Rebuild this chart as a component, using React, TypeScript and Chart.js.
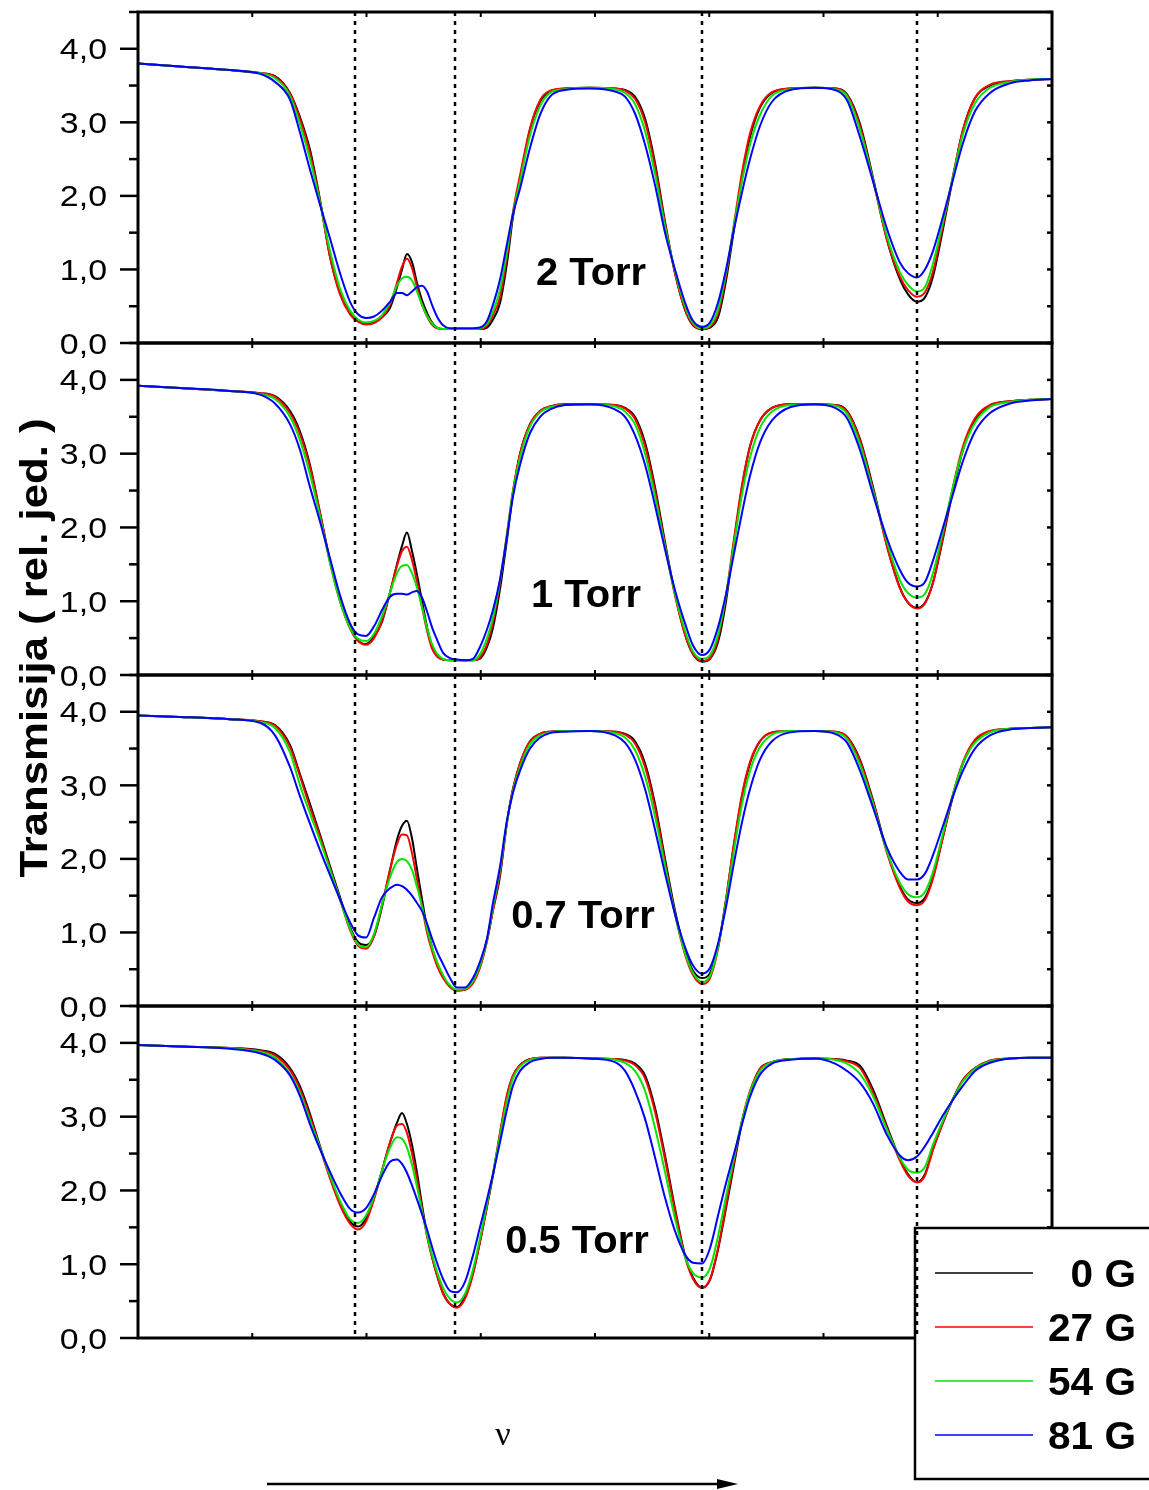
import React, { useEffect, useRef } from 'react';
import { Chart, registerables } from 'chart.js';

Chart.register(...registerables);

// ---------- data (relative frequency axis, arbitrary units 0..8) ----------
const NU = [
  0, 0.368, 0.805, 1.068, 1.199, 1.330, 1.418, 1.505, 1.593, 1.681,
  1.768, 1.856, 1.926, 1.996, 2.066, 2.136, 2.206, 2.267, 2.311, 2.354,
  2.398, 2.442, 2.486, 2.530, 2.573, 2.617, 2.670, 2.731, 2.792, 2.862,
  2.932, 2.993, 3.055, 3.107, 3.168, 3.230, 3.282, 3.344, 3.431, 3.519,
  3.606, 3.737, 3.956, 4.175, 4.263, 4.350, 4.438, 4.525, 4.613, 4.700,
  4.788, 4.858, 4.937, 5.007, 5.077, 5.147, 5.217, 5.287, 5.357, 5.444,
  5.549, 5.707, 5.926, 6.101, 6.206, 6.319, 6.433, 6.556, 6.670, 6.740,
  6.818, 6.888, 6.958, 7.046, 7.133, 7.221, 7.326, 7.457, 7.632, 7.807,
  8.0,
];

// 2 Torr
const T2_0G = [
  3.80, 3.76, 3.71, 3.67, 3.63, 3.40, 3.07, 2.63, 1.95, 1.17,
  0.68, 0.41, 0.30, 0.26, 0.28, 0.35, 0.48, 0.76, 1.00, 1.21,
  1.10, 0.82, 0.58, 0.41, 0.28, 0.21, 0.19, 0.19, 0.19, 0.19,
  0.19, 0.19, 0.21, 0.32, 0.54, 1.09, 1.71, 2.22, 2.90, 3.28,
  3.42, 3.46, 3.47, 3.46, 3.44, 3.35, 3.05, 2.45, 1.65, 0.95,
  0.45, 0.24, 0.19, 0.21, 0.35, 0.85, 1.55, 2.25, 2.80, 3.20,
  3.40, 3.46, 3.47, 3.46, 3.38, 2.98, 2.25, 1.40, 0.86, 0.66,
  0.56, 0.62, 0.90, 1.55, 2.25, 2.90, 3.33, 3.50, 3.56, 3.58,
  3.59,
];
const T2_27G = [
  3.80, 3.76, 3.71, 3.67, 3.62, 3.39, 3.04, 2.58, 1.93, 1.17,
  0.66, 0.39, 0.29, 0.25, 0.27, 0.35, 0.52, 0.82, 1.04, 1.15,
  1.02, 0.76, 0.52, 0.36, 0.25, 0.20, 0.19, 0.19, 0.19, 0.19,
  0.19, 0.19, 0.24, 0.38, 0.62, 1.18, 1.78, 2.28, 2.92, 3.30,
  3.43, 3.46, 3.47, 3.46, 3.43, 3.32, 3.00, 2.40, 1.62, 0.95,
  0.46, 0.25, 0.19, 0.22, 0.40, 0.92, 1.62, 2.32, 2.85, 3.22,
  3.41, 3.46, 3.47, 3.46, 3.37, 2.95, 2.22, 1.40, 0.90, 0.72,
  0.63, 0.69, 0.97, 1.60, 2.27, 2.90, 3.33, 3.51, 3.56, 3.58,
  3.59,
];
const T2_54G = [
  3.80, 3.76, 3.71, 3.67, 3.60, 3.36, 2.97, 2.50, 1.91, 1.25,
  0.74, 0.44, 0.32, 0.28, 0.30, 0.38, 0.55, 0.78, 0.88, 0.90,
  0.85, 0.70, 0.52, 0.37, 0.27, 0.21, 0.19, 0.19, 0.19, 0.19,
  0.19, 0.20, 0.26, 0.43, 0.72, 1.25, 1.76, 2.20, 2.82, 3.22,
  3.40, 3.45, 3.47, 3.45, 3.40, 3.25, 2.88, 2.30, 1.58, 0.98,
  0.50, 0.27, 0.20, 0.24, 0.46, 0.96, 1.60, 2.20, 2.70, 3.10,
  3.36, 3.45, 3.47, 3.45, 3.35, 2.90, 2.22, 1.45, 0.96, 0.79,
  0.70, 0.76, 1.08, 1.65, 2.26, 2.84, 3.26, 3.47, 3.55, 3.58,
  3.59,
];
const T2_81G = [
  3.80, 3.76, 3.71, 3.66, 3.55, 3.31, 2.86, 2.36, 1.88, 1.42,
  0.95, 0.56, 0.39, 0.34, 0.36, 0.44, 0.56, 0.68, 0.68, 0.65,
  0.70, 0.76, 0.78, 0.70, 0.52, 0.36, 0.24, 0.20, 0.20, 0.20,
  0.20, 0.21, 0.30, 0.52, 0.86, 1.35, 1.75, 2.10, 2.65, 3.10,
  3.35, 3.44, 3.46, 3.42, 3.35, 3.12, 2.70, 2.15, 1.50, 1.00,
  0.55, 0.30, 0.22, 0.28, 0.55, 1.00, 1.55, 2.05, 2.50, 2.95,
  3.28, 3.44, 3.47, 3.44, 3.30, 2.80, 2.20, 1.55, 1.09, 0.95,
  0.89, 1.00, 1.25, 1.72, 2.22, 2.72, 3.15, 3.40, 3.53, 3.57,
  3.59,
];

// 1 Torr
const T1_0G = [
  3.92, 3.89, 3.85, 3.82, 3.78, 3.58, 3.30, 2.85, 2.20, 1.55,
  1.02, 0.66, 0.47, 0.42, 0.52, 0.72, 1.12, 1.50, 1.75, 1.93,
  1.68, 1.36, 1.00, 0.65, 0.38, 0.26, 0.21, 0.20, 0.20, 0.20,
  0.20, 0.22, 0.38, 0.64, 1.16, 1.84, 2.47, 3.00, 3.40, 3.58,
  3.64, 3.67, 3.67, 3.66, 3.62, 3.50, 3.15, 2.55, 1.80, 1.10,
  0.55, 0.28, 0.18, 0.22, 0.45, 1.00, 1.80, 2.55, 3.10, 3.45,
  3.62, 3.67, 3.67, 3.66, 3.58, 3.20, 2.55, 1.75, 1.18, 0.98,
  0.91, 0.98, 1.25, 1.85, 2.50, 3.05, 3.45, 3.65, 3.71, 3.73,
  3.74,
];
const T1_27G = [
  3.92, 3.89, 3.85, 3.82, 3.77, 3.55, 3.26, 2.82, 2.20, 1.52,
  1.00, 0.63, 0.46, 0.41, 0.50, 0.74, 1.12, 1.48, 1.68, 1.74,
  1.56, 1.26, 0.92, 0.60, 0.36, 0.25, 0.21, 0.20, 0.20, 0.20,
  0.20, 0.24, 0.42, 0.72, 1.25, 1.92, 2.50, 3.00, 3.40, 3.58,
  3.64, 3.67, 3.67, 3.66, 3.61, 3.47, 3.10, 2.50, 1.76, 1.08,
  0.55, 0.29, 0.19, 0.23, 0.50, 1.08, 1.85, 2.58, 3.10, 3.45,
  3.62, 3.67, 3.67, 3.66, 3.57, 3.18, 2.52, 1.74, 1.17, 0.98,
  0.90, 0.97, 1.25, 1.88, 2.55, 3.10, 3.48, 3.66, 3.71, 3.73,
  3.74,
];
const T1_54G = [
  3.92, 3.89, 3.85, 3.81, 3.74, 3.50, 3.18, 2.72, 2.15, 1.52,
  1.00, 0.64, 0.49, 0.46, 0.56, 0.80, 1.12, 1.38, 1.48, 1.49,
  1.38, 1.18, 0.92, 0.64, 0.42, 0.29, 0.22, 0.20, 0.20, 0.20,
  0.20, 0.28, 0.50, 0.78, 1.28, 1.90, 2.48, 2.95, 3.37, 3.56,
  3.63, 3.66, 3.67, 3.64, 3.57, 3.40, 3.00, 2.42, 1.74, 1.10,
  0.60, 0.32, 0.22, 0.27, 0.55, 1.08, 1.78, 2.45, 2.95, 3.35,
  3.57, 3.66, 3.67, 3.65, 3.54, 3.13, 2.50, 1.80, 1.28, 1.11,
  1.05, 1.10, 1.38, 1.95, 2.55, 3.05, 3.42, 3.63, 3.70, 3.73,
  3.74,
];
const T1_81G = [
  3.92, 3.89, 3.85, 3.80, 3.68, 3.40, 3.05, 2.55, 2.08, 1.58,
  1.08, 0.70, 0.55, 0.53, 0.66, 0.88, 1.06, 1.10, 1.10, 1.09,
  1.12, 1.14, 1.05, 0.86, 0.65, 0.48, 0.30, 0.23, 0.21, 0.20,
  0.22, 0.38, 0.62, 0.88, 1.29, 1.88, 2.42, 2.85, 3.28, 3.50,
  3.60, 3.66, 3.67, 3.60, 3.50, 3.25, 2.85, 2.30, 1.70, 1.15,
  0.70, 0.40, 0.27, 0.35, 0.65, 1.10, 1.65, 2.20, 2.70, 3.15,
  3.45, 3.63, 3.67, 3.62, 3.48, 3.05, 2.45, 1.85, 1.42, 1.25,
  1.20, 1.26, 1.55, 2.00, 2.45, 2.90, 3.30, 3.55, 3.68, 3.72,
  3.74,
];

// 0.7 Torr
const T07_0G = [
  3.95, 3.93, 3.90, 3.87, 3.82, 3.55, 3.15, 2.75, 2.33, 1.90,
  1.48, 1.07, 0.87, 0.83, 0.95, 1.35, 1.85, 2.26, 2.45, 2.52,
  2.28, 1.86, 1.45, 1.07, 0.80, 0.58, 0.40, 0.26, 0.21, 0.22,
  0.33, 0.53, 0.90, 1.30, 1.76, 2.50, 2.95, 3.30, 3.60, 3.70,
  3.73, 3.74, 3.74, 3.73, 3.70, 3.60, 3.30, 2.75, 2.00, 1.30,
  0.75, 0.48, 0.38, 0.45, 0.80, 1.45, 2.20, 2.85, 3.30, 3.60,
  3.72, 3.74, 3.74, 3.73, 3.66, 3.35, 2.80, 2.10, 1.62, 1.45,
  1.40, 1.47, 1.75, 2.30, 2.85, 3.30, 3.60, 3.73, 3.77, 3.78,
  3.79,
];
const T07_27G = [
  3.95, 3.93, 3.90, 3.87, 3.81, 3.52, 3.12, 2.70, 2.30, 1.87,
  1.45, 1.03, 0.82, 0.78, 0.95, 1.38, 1.85, 2.20, 2.33, 2.32,
  2.08, 1.72, 1.35, 1.00, 0.75, 0.55, 0.38, 0.26, 0.21, 0.22,
  0.31, 0.52, 0.88, 1.30, 1.80, 2.50, 2.95, 3.30, 3.60, 3.70,
  3.73, 3.74, 3.74, 3.73, 3.69, 3.57, 3.25, 2.70, 1.95, 1.25,
  0.70, 0.42, 0.30, 0.38, 0.78, 1.45, 2.22, 2.88, 3.32, 3.60,
  3.72, 3.74, 3.74, 3.73, 3.66, 3.33, 2.78, 2.08, 1.60, 1.42,
  1.37, 1.44, 1.73, 2.30, 2.88, 3.32, 3.62, 3.74, 3.77, 3.78,
  3.79,
];
const T07_54G = [
  3.95, 3.93, 3.90, 3.86, 3.78, 3.45, 3.00, 2.62, 2.25, 1.85,
  1.45, 1.05, 0.84, 0.80, 0.98, 1.38, 1.75, 1.96, 2.00, 1.97,
  1.85, 1.62, 1.35, 1.05, 0.80, 0.60, 0.42, 0.28, 0.22, 0.23,
  0.34, 0.55, 0.90, 1.35, 1.85, 2.50, 2.92, 3.25, 3.56, 3.68,
  3.72, 3.74, 3.74, 3.71, 3.65, 3.48, 3.12, 2.58, 1.90, 1.25,
  0.72, 0.45, 0.33, 0.41, 0.80, 1.42, 2.12, 2.75, 3.20, 3.52,
  3.69, 3.74, 3.74, 3.72, 3.63, 3.28, 2.75, 2.10, 1.67, 1.52,
  1.48, 1.55, 1.82, 2.35, 2.88, 3.30, 3.58, 3.72, 3.77, 3.78,
  3.79,
];
const T07_81G = [
  3.95, 3.93, 3.90, 3.85, 3.68, 3.25, 2.85, 2.48, 2.12, 1.78,
  1.45, 1.14, 0.96, 0.93, 1.20, 1.48, 1.60, 1.65, 1.63, 1.58,
  1.50, 1.40, 1.29, 1.12, 0.92, 0.74, 0.57, 0.38, 0.25, 0.25,
  0.38, 0.60, 0.92, 1.40, 1.89, 2.53, 2.90, 3.20, 3.50, 3.65,
  3.71, 3.73, 3.74, 3.68, 3.58, 3.35, 2.95, 2.40, 1.80, 1.25,
  0.80, 0.55, 0.44, 0.52, 0.85, 1.35, 1.95, 2.50, 2.95, 3.35,
  3.60, 3.72, 3.74, 3.70, 3.58, 3.20, 2.70, 2.15, 1.82, 1.72,
  1.72, 1.80, 2.05, 2.45, 2.85, 3.20, 3.50, 3.68, 3.76, 3.78,
  3.79,
];

// 0.5 Torr
const T05_0G = [
  3.97, 3.95, 3.93, 3.90, 3.85, 3.66, 3.41, 3.04, 2.60, 2.19,
  1.84, 1.58, 1.51, 1.62, 1.90, 2.27, 2.65, 2.92, 3.05, 2.90,
  2.62, 2.24, 1.80, 1.40, 1.10, 0.85, 0.61, 0.46, 0.42, 0.56,
  0.88, 1.30, 1.78, 2.20, 2.75, 3.28, 3.55, 3.70, 3.78, 3.80,
  3.80, 3.80, 3.79, 3.78, 3.77, 3.72, 3.56, 3.12, 2.47, 1.76,
  1.12, 0.82, 0.68, 0.79, 1.20, 1.76, 2.35, 2.92, 3.33, 3.65,
  3.74, 3.78, 3.79, 3.78, 3.76, 3.69, 3.37, 2.87, 2.42, 2.22,
  2.11, 2.22, 2.56, 2.92, 3.24, 3.50, 3.66, 3.76, 3.79, 3.80,
  3.80,
];
const T05_27G = [
  3.97, 3.95, 3.93, 3.89, 3.83, 3.63, 3.37, 3.00, 2.58, 2.16,
  1.80, 1.55, 1.47, 1.58, 1.88, 2.27, 2.65, 2.88, 2.90, 2.78,
  2.50, 2.15, 1.75, 1.38, 1.10, 0.85, 0.60, 0.46, 0.41, 0.53,
  0.86, 1.30, 1.80, 2.22, 2.78, 3.30, 3.56, 3.70, 3.78, 3.80,
  3.80, 3.80, 3.79, 3.78, 3.76, 3.70, 3.52, 3.07, 2.42, 1.72,
  1.10, 0.80, 0.68, 0.80, 1.22, 1.80, 2.40, 2.95, 3.35, 3.65,
  3.74, 3.78, 3.79, 3.78, 3.75, 3.66, 3.33, 2.84, 2.40, 2.20,
  2.11, 2.20, 2.55, 2.92, 3.24, 3.50, 3.66, 3.76, 3.79, 3.80,
  3.80,
];
const T05_54G = [
  3.97, 3.95, 3.93, 3.88, 3.80, 3.58, 3.32, 2.95, 2.58, 2.20,
  1.86, 1.61, 1.56, 1.66, 1.92, 2.27, 2.58, 2.72, 2.70, 2.58,
  2.35, 2.05, 1.72, 1.40, 1.13, 0.90, 0.68, 0.53, 0.48, 0.60,
  0.93, 1.35, 1.82, 2.23, 2.74, 3.22, 3.52, 3.68, 3.77, 3.79,
  3.80, 3.80, 3.79, 3.77, 3.73, 3.62, 3.35, 2.85, 2.25, 1.62,
  1.10, 0.88, 0.82, 0.95, 1.38, 1.92, 2.45, 2.95, 3.33, 3.62,
  3.74, 3.78, 3.79, 3.77, 3.72, 3.58, 3.28, 2.82, 2.44, 2.28,
  2.24, 2.32, 2.62, 2.95, 3.24, 3.48, 3.65, 3.75, 3.79, 3.80,
  3.80,
];
const T05_81G = [
  3.97, 3.95, 3.92, 3.86, 3.77, 3.56, 3.28, 2.90, 2.56, 2.25,
  1.97, 1.75, 1.70, 1.76, 1.95, 2.20, 2.39, 2.42, 2.36, 2.24,
  2.07, 1.88, 1.68, 1.47, 1.24, 1.02, 0.80, 0.64, 0.62, 0.76,
  1.12, 1.50, 1.88, 2.22, 2.65, 3.10, 3.42, 3.62, 3.74, 3.78,
  3.80, 3.80, 3.79, 3.74, 3.62, 3.35, 2.97, 2.45, 1.90, 1.45,
  1.13, 1.02, 1.01, 1.22, 1.66, 2.10, 2.50, 2.90, 3.27, 3.57,
  3.72, 3.77, 3.79, 3.72, 3.62, 3.46, 3.18, 2.75, 2.47, 2.41,
  2.46, 2.60, 2.78, 3.02, 3.23, 3.42, 3.62, 3.73, 3.79, 3.80,
  3.80,
];

const PANEL_LABELS = ['2 Torr', '1 Torr', '0.7 Torr', '0.5 Torr'];
const FIELD_LABELS = ['0 G', '27 G', '54 G', '81 G'];
const Y_TICK_VALUES = [0, 1, 2, 3, 4];
const X_TICK_VALUES = [1, 2, 3, 4, 5, 6, 7];
const MARKER_LINES = [1.90, 2.775, 4.937, 6.818];
const Y_TITLE = 'Transmisija ( rel. jed. )';
const X_TITLE = 'ν';

const PANEL_SERIES = [
  [T2_0G, T2_27G, T2_54G, T2_81G],
  [T1_0G, T1_27G, T1_54G, T1_81G],
  [T07_0G, T07_27G, T07_54G, T07_81G],
  [T05_0G, T05_27G, T05_54G, T05_81G],
];

// ---------- layout / style ----------
const W = 1149;
const H = 1490;
const PLOT_LEFT = 138;
const PLOT_RIGHT = 1052;
const PANEL_TOP = [12, 343, 675, 1006];
const PANEL_BOTTOM = [343, 675, 1006, 1338];
const PANEL_LABEL_POS = [
  [591, 285],
  [586, 607],
  [583, 928],
  [577, 1253],
];
const COLORS = ['#000000', '#ff0000', '#00e600', '#0000ff'];
const SANS = "'Liberation Sans', Arial, Helvetica, sans-serif";
const SERIF = "'Liberation Serif', 'Times New Roman', serif";

function text(
  ctx: CanvasRenderingContext2D,
  s: string,
  x: number,
  y: number,
  font: string,
  align: CanvasTextAlign,
  sx = 1,
  rot = 0,
) {
  ctx.save();
  ctx.translate(x, y);
  if (rot) ctx.rotate(rot);
  ctx.scale(sx, 1);
  ctx.font = font;
  ctx.textAlign = align;
  ctx.textBaseline = 'alphabetic';
  ctx.fillStyle = '#000';
  ctx.fillText(s, 0, 0);
  ctx.restore();
}

function seg(ctx: CanvasRenderingContext2D, x1: number, y1: number, x2: number, y2: number) {
  ctx.beginPath();
  ctx.moveTo(x1, y1);
  ctx.lineTo(x2, y2);
  ctx.stroke();
}

function drawMarkers(chart: any) {
  const { ctx, chartArea: a, scales } = chart;
  ctx.save();
  ctx.strokeStyle = '#000';
  ctx.lineWidth = 2.5;
  ctx.setLineDash([4, 5]);
  MARKER_LINES.forEach((m) => {
    const x = Math.round(scales.x.getPixelForValue(m));
    seg(ctx, x, a.top, x, a.bottom);
  });
  ctx.restore();
}

function drawGlobal(chart: any) {
  const ctx: CanvasRenderingContext2D = chart.ctx;
  // legend box
  ctx.save();
  ctx.fillStyle = '#fff';
  ctx.fillRect(915, 1228, 240, 251);
  ctx.strokeStyle = '#000';
  ctx.lineWidth = 2.5;
  ctx.strokeRect(915, 1228, 240, 251);
  FIELD_LABELS.forEach((lab, i) => {
    const y = 1273 + i * 54;
    ctx.strokeStyle = COLORS[i];
    ctx.lineWidth = 1.6;
    seg(ctx, 935, y, 1033, y);
    text(ctx, lab, 1136, y + 14, `bold 39px ${SANS}`, 'right', 1.04);
  });
  ctx.restore();

  // y title
  text(ctx, Y_TITLE, 47, 648, `bold 38px ${SANS}`, 'center', 1.15, -Math.PI / 2);

  // frequency label and arrow
  text(ctx, X_TITLE, 503, 1445, `34px ${SERIF}`, 'center');
  ctx.save();
  ctx.strokeStyle = '#000';
  ctx.fillStyle = '#000';
  ctx.lineWidth = 2.5;
  seg(ctx, 267, 1484, 722, 1484);
  ctx.beginPath();
  ctx.moveTo(717, 1479);
  ctx.lineTo(738, 1484);
  ctx.lineTo(717, 1489);
  ctx.closePath();
  ctx.fill();
  ctx.restore();
}

function drawPanelDeco(chart: any, index: number) {
  const { ctx, chartArea: a, scales } = chart;
  const ys = scales.y;
  const xs = scales.x;
  ctx.save();
  ctx.strokeStyle = '#000';
  ctx.lineWidth = 2.5;
  for (let k = 0; k <= 9; k++) {
    const y = ys.getPixelForValue(k * 0.5);
    const len = k % 2 === 0 ? 18 : 9;
    seg(ctx, a.left - len, y, a.left, y);
    seg(ctx, a.right - 5, y, a.right, y);
  }
  ctx.lineWidth = 2;
  X_TICK_VALUES.forEach((v) => {
    const x = xs.getPixelForValue(v);
    seg(ctx, x, a.top, x, a.top + 5);
    seg(ctx, x, a.bottom - 5, x, a.bottom);
  });
  ctx.lineWidth = 3;
  ctx.strokeRect(a.left, a.top, a.right - a.left, a.bottom - a.top);
  ctx.restore();

  Y_TICK_VALUES.forEach((v) => {
    const y = ys.getPixelForValue(v);
    text(ctx, v.toFixed(1).replace('.', ','), 107, y + 10.5, `30px ${SANS}`, 'right', 1.13);
  });

  const [lx, ly] = PANEL_LABEL_POS[index];
  text(ctx, PANEL_LABELS[index], lx, ly, `bold 38px ${SANS}`, 'center', 1.05);

  if (index === PANEL_SERIES.length - 1) {
    drawGlobal(chart);
  }
  drawMarkers(chart);
}

function Panel({ index }: { index: number }) {
  const ref = useRef<HTMLCanvasElement | null>(null);
  useEffect(() => {
    const canvas = ref.current;
    if (!canvas) return;
    const series = PANEL_SERIES[index];
    const chart = new Chart(canvas, {
      type: 'line',
      data: {
        datasets: series.map((s, i) => ({
          label: FIELD_LABELS[i],
          data: NU.map((x, j) => ({ x, y: s[j] })),
          borderColor: COLORS[i],
          backgroundColor: COLORS[i],
          borderWidth: 2,
          pointRadius: 0,
          fill: false,
          cubicInterpolationMode: 'monotone',
          order: 3 - i,
        })),
      },
      options: {
        responsive: false,
        animation: false,
        events: [],
        devicePixelRatio: 1,
        layout: {
          padding: {
            left: PLOT_LEFT,
            right: W - PLOT_RIGHT,
            top: PANEL_TOP[index],
            bottom: H - PANEL_BOTTOM[index],
          },
        },
        plugins: {
          legend: { display: false },
          tooltip: { enabled: false },
        },
        scales: {
          x: { type: 'linear', min: 0, max: 8, display: false },
          y: { type: 'linear', min: 0, max: 4.5, display: false },
        },
      },
      plugins: [
        {
          id: 'panelDeco' + index,
          afterDraw: (c: any) => drawPanelDeco(c, index),
        },
      ],
    } as any);
    return () => chart.destroy();
  }, [index]);
  return (
    <canvas
      ref={ref}
      width={W}
      height={H}
      style={{ position: 'absolute', left: 0, top: 0, width: W, height: H }}
    />
  );
}

export default function App() {
  return (
    <div
      style={{
        position: 'absolute',
        left: 0,
        top: 0,
        width: W,
        height: H,
        background: '#fff',
        overflow: 'hidden',
      }}
    >
      {PANEL_SERIES.map((_, i) => (
        <Panel key={i} index={i} />
      ))}
    </div>
  );
}
